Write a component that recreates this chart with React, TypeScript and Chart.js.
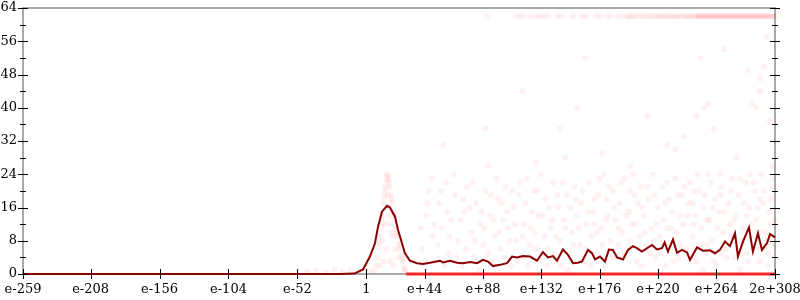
import React, { useEffect, useRef } from "react";
import { Chart, registerables } from "chart.js";

Chart.register(...registerables);

// ---- axis ticks ----
const xTickValues = [-259, -208, -156, -104, -52, 0, 44, 88, 132, 176, 220, 264, 308.25];
const xTickLabels = ["e-259", "e-208", "e-156", "e-104", "e-52", "1", "e+44", "e+88", "e+132", "e+176", "e+220", "e+264", "2e+308"];
const yMajorTicks = [0, 8, 16, 24, 32, 40, 48, 56, 64];
const yMinorTicks = [4, 12, 20, 28, 36, 44, 52, 60];

// ---- mean line (exponent, value) ----
const lineX = [-259, -20, -9, -2.5, 2.7, 6.5, 8.8, 11.8, 15.6, 17.8, 21.6, 23.9, 26.9, 29.1, 32.9, 38.2, 42.7, 48, 55.5, 57.8, 63.1, 68.4, 72.9, 78.2, 83.5, 88, 91.7, 95.5, 100.8, 106.1, 109.9, 113.6, 118.2, 123.4, 128.7, 133.2, 137, 140.8, 143.8, 148.3, 152.1, 155.9, 159.6, 162.7, 167.2, 170.2, 172.5, 176.2, 180, 183, 186, 189.1, 193.6, 197.4, 201.1, 204.1, 207.9, 211.7, 215.5, 219.2, 223, 225, 227.5, 231.3, 234.3, 238.1, 241.9, 244.1, 249.4, 253.9, 259.2, 263, 266.7, 270.5, 274.3, 278.1, 280.3, 284.1, 288.6, 291.6, 295.4, 298.4, 302.2, 304.5, 306, 308.25];
const lineY = [0, 0, 0.1, 1.1, 4.2, 7.4, 11.4, 15, 16.4, 16, 13.8, 10.6, 7.4, 5, 3.2, 2.6, 2.4, 2.7, 3.2, 2.8, 3.2, 2.7, 2.6, 2.9, 2.6, 3.4, 3.0, 1.9, 2.2, 2.6, 4.2, 4.0, 4.3, 4.2, 3.2, 5.3, 4.0, 4.3, 3.2, 5.9, 4.6, 2.6, 2.7, 3.0, 5.8, 5.0, 3.5, 4.2, 3.0, 5.9, 5.8, 4.0, 3.5, 5.8, 6.7, 6.2, 5.4, 6.2, 7.0, 5.9, 6.2, 7.6, 5.4, 8.3, 5.1, 5.8, 5.2, 3.4, 6.4, 5.6, 5.7, 5.0, 5.8, 7.8, 6.7, 9.8, 4.2, 7.8, 11.2, 5.4, 9.8, 5.8, 7.4, 9.6, 9.3, 8.8];

// ---- individual samples (exponent, value) ----
const cloudPoints: [number, number][] = [
  [42, 6], [45, 14], [47, 20], [50, 9], [52, 3], [55, 17], [57, 11], [60, 22], [62, 5], [64, 13], [67, 19], [69, 8], [72, 2], [74, 15], [76, 21], [79, 10], [81, 4], [83, 17], [86, 12], [88, 7], [90, 20], [93, 14], [95, 3], [97, 9], [99, 18],
  [101, 6], [103, 13], [105, 21], [107, 11], [109, 2], [111, 16], [113, 8], [115, 19], [117, 4], [119, 12], [121, 23], [123, 7], [125, 15], [127, 10], [129, 20], [131, 3], [133, 14], [135, 18], [137, 6], [139, 11], [141, 22], [143, 9], [145, 16], [147, 2], [149, 13], [151, 19], [153, 5], [155, 10], [157, 21], [159, 14],
  [161, 7], [162, 17], [164, 3], [166, 12], [168, 22], [170, 9], [171, 15], [173, 5], [175, 19], [177, 11], [179, 24], [180, 2], [182, 14], [184, 8], [186, 20], [188, 13], [189, 4], [191, 17], [193, 10], [195, 23], [197, 6], [198, 15], [200, 12], [202, 19], [204, 3], [206, 9], [207, 21], [209, 14], [211, 7], [213, 18], [215, 11], [216, 24], [218, 4], [220, 16],
  [221, 9], [223, 21], [224, 13], [226, 2], [228, 18], [229, 7], [231, 15], [233, 23], [234, 10], [236, 4], [238, 19], [239, 12], [241, 6], [243, 17], [244, 22], [246, 9], [248, 14], [249, 3], [251, 20], [253, 11], [254, 16], [256, 5], [258, 24], [259, 13], [261, 8], [263, 18], [264, 2], [266, 15], [268, 21], [269, 10], [271, 6], [273, 17], [274, 12], [276, 23], [278, 4], [279, 14], [281, 19], [283, 8], [284, 11], [286, 22], [288, 3], [289, 16], [291, 9], [293, 20], [294, 13], [296, 6], [298, 24], [299, 17], [301, 10], [303, 2], [304, 15], [306, 21], [307, 7], [305, 12], [297, 18], [287, 14], [277, 9], [267, 19], [257, 7], [247, 20], [237, 14], [227, 11], [217, 8], [208, 16], [199, 20], [190, 7], [181, 18], [172, 12],
  [90, 35], [146, 35], [159, 40], [227, 31], [249, 38], [291, 41], [288, 49], [300, 50], [297, 47], [297, 44], [294, 40], [252, 52], [255, 40], [258, 41], [58, 31], [118, 44], [128, 27], [165, 52], [178, 29], [199, 26], [212, 38], [233, 30], [262, 35], [270, 54], [279, 28], [304, 37], [306, 26], [302, 57], [240, 33], [150, 28], [92, 26]
];

const cloudPoints2: [number, number][] = [
  [41, 11], [44, 3], [46, 17], [49, 23], [51, 12], [54, 7], [56, 20], [59, 2], [61, 15], [63, 9], [66, 24], [68, 4], [71, 13], [73, 18], [75, 6], [78, 16], [80, 22], [82, 8], [85, 1], [87, 15], [89, 11], [92, 5], [94, 19], [96, 13], [98, 23],
  [100, 10], [102, 17], [104, 4], [106, 15], [108, 8], [110, 20], [112, 12], [114, 3], [116, 22], [118, 9], [120, 17], [122, 2], [124, 11], [126, 20], [128, 6], [130, 14], [132, 24], [134, 9], [136, 2], [138, 16], [140, 13], [142, 5], [144, 19], [146, 8], [148, 22], [150, 11], [152, 1], [154, 16], [156, 7], [158, 18],
  [160, 11], [163, 20], [165, 6], [167, 15], [169, 2], [172, 18], [174, 10], [176, 23], [178, 7], [181, 13], [183, 21], [185, 4], [187, 16], [190, 11], [192, 22], [194, 5], [196, 14], [199, 8], [201, 24], [203, 12], [205, 17], [207, 2], [210, 10], [212, 21], [214, 5], [217, 19], [219, 12],
  [222, 5], [225, 17], [227, 22], [230, 11], [232, 3], [235, 19], [237, 7], [240, 21], [242, 14], [245, 4], [247, 12], [250, 24], [252, 7], [255, 19], [257, 13], [260, 22], [262, 3], [265, 11], [267, 24], [270, 15], [272, 4], [275, 20], [277, 13], [280, 6], [282, 23], [285, 17], [287, 5], [290, 12], [292, 22], [295, 16], [297, 3], [300, 20], [302, 8], [305, 18], [307, 23], [308, 13], [303, 5], [296, 10], [289, 24], [282, 1], [275, 9], [268, 5], [261, 16], [254, 1], [246, 17]
];

const spikePoints: [number, number][] = [
  [6, 0.5], [7, 2], [8, 4], [9, 6.5], [10, 9], [11, 11.5], [12, 14], [13, 17], [14, 20], [15, 22.5], [15.5, 24], [16.5, 23], [17.5, 21], [18.5, 19], [19.5, 17], [20.5, 15], [21.5, 13], [22.5, 11], [23.5, 9], [24.5, 7.5], [25.5, 6], [26.5, 4.5], [27.5, 3], [28.5, 1.5], [29.5, 0.5],
  [9.5, 7.5], [11.5, 13], [13.5, 18.5], [14.5, 21], [16, 23.5], [17, 22], [19, 18], [21, 14], [23, 10], [25, 6.8], [27, 3.7], [29, 1],
  [12, 8], [14, 12], [16, 16], [18, 12], [20, 9], [22, 6], [24, 4], [15, 6], [13, 3], [18, 3], [10, 2], [20, 2], [16, 19], [17, 14], [19, 10],
  [-45, 0.5], [-38, 0.8], [-30, 0.4], [-24, 1], [-18, 0.6], [-12, 0.9], [-6, 0.5], [-1, 1.2], [3, 0.7]
];

const topBandX = [91, 113, 116, 119, 124, 128, 131, 134, 137, 144, 147, 156, 163, 166, 173, 176, 181, 184, 189, 192, 196, 198, 200, 202, 205, 208, 210, 213, 215, 217, 219, 221, 222.5, 224, 226, 228, 229.5, 231, 233, 234.5, 236, 238, 240, 241.5, 243, 244.5, 246, 248, 249.5, 250, 251, 252, 253, 254, 255, 256, 257, 258, 259, 260, 261, 262, 263, 264, 265, 266, 267, 268, 269, 270, 271, 272, 273, 274, 275, 276, 277, 278, 279, 280, 281, 282, 283, 284, 285, 286, 287, 288, 289, 290, 291, 292, 293, 294, 295, 296, 297, 298, 299, 300, 301, 302, 303, 304, 305, 306, 307, 308];
const topBandValue = 62;

const zeroBandX = [30, 308.25];
const zeroBandValue = 0;

const FONT = "'DejaVu Serif', serif";

const framePlugin = {
  id: "frame",
  beforeDatasetsDraw(chart: any) {
    const { ctx, chartArea: a } = chart;
    ctx.save();
    ctx.strokeStyle = "#aaaaaa";
    ctx.lineWidth = 2;
    ctx.strokeRect(a.left, a.top, a.right - a.left, a.bottom - a.top);
    ctx.restore();
  },
  afterDatasetsDraw(chart: any) {
    const { ctx, chartArea: a, scales } = chart;
    const xs = scales.x;
    const ys = scales.y;
    ctx.save();
    ctx.strokeStyle = "#000";
    ctx.lineWidth = 1;
    ctx.beginPath();
    for (const v of yMajorTicks) {
      const p = Math.round(ys.getPixelForValue(v)) + 0.5;
      ctx.moveTo(a.left - 5, p);
      ctx.lineTo(a.left + 5, p);
      ctx.moveTo(a.right - 5, p);
      ctx.lineTo(a.right + 5, p);
    }
    for (const v of yMinorTicks) {
      const p = Math.round(ys.getPixelForValue(v)) + 0.5;
      ctx.moveTo(a.left - 3, p);
      ctx.lineTo(a.left + 3, p);
      ctx.moveTo(a.right - 3, p);
      ctx.lineTo(a.right + 3, p);
    }
    for (const v of xTickValues) {
      const p = Math.round(xs.getPixelForValue(v)) + 0.5;
      ctx.moveTo(p, a.bottom - 5);
      ctx.lineTo(p, a.bottom + 5);
    }
    ctx.stroke();
    ctx.restore();
  },
};

const dot = (pts: [number, number][], alpha: number) => ({
  data: pts.map(([x, y]) => ({ x, y })),
  backgroundColor: `rgba(255,0,0,${alpha})`,
  borderWidth: 0,
  pointRadius: 3,
  clip: 6,
});

export default function App() {
  const ref = useRef<HTMLCanvasElement>(null);
  useEffect(() => {
    document.body.style.margin = "0";
    const canvas = ref.current!;
    const chart = new Chart(canvas, {
      type: "scatter",
      data: {
        datasets: [
          {
            type: "line",
            data: lineX.map((x, i) => ({ x, y: lineY[i] })),
            borderColor: "#8b0000",
            borderWidth: 2,
            pointRadius: 0,
            tension: 0,
            fill: false,
            clip: 6,
          } as any,
          {
            type: "line",
            data: zeroBandX.map((x) => ({ x, y: zeroBandValue })),
            borderColor: "rgba(250,30,30,0.95)",
            borderWidth: 3,
            pointRadius: 0,
            fill: false,
            clip: 6,
          } as any,
          dot(topBandX.map((x) => [x, topBandValue] as [number, number]), 0.055),
          dot(spikePoints, 0.06),
          dot(cloudPoints, 0.055),
          dot(cloudPoints2, 0.055),
        ],
      },
      options: {
        animation: false,
        responsive: false,
        events: [],
        layout: { padding: { top: 8, right: 25, left: 0, bottom: 0 } },
        plugins: { legend: { display: false }, tooltip: { enabled: false } },
        scales: {
          x: {
            type: "linear",
            min: -259,
            max: 308.25,
            grid: { display: false, drawTicks: false },
            border: { display: false },
            afterBuildTicks: (scale: any) => {
              scale.ticks = xTickValues.map((v) => ({ value: v }));
            },
            afterFit: (scale: any) => {
              scale.height = 26;
              scale.paddingLeft = 0;
              scale.paddingRight = 0;
              scale.paddingTop = 0;
              scale.paddingBottom = 0;
            },
            ticks: {
              autoSkip: false,
              maxRotation: 0,
              padding: 8,
              color: "#000",
              font: { family: FONT, size: 13 },
              callback: (_v: any, i: number) => xTickLabels[i],
            },
          },
          y: {
            type: "linear",
            min: 0,
            max: 64,
            grid: { display: false, drawTicks: false },
            border: { display: false },
            afterBuildTicks: (scale: any) => {
              scale.ticks = yMajorTicks.map((v) => ({ value: v }));
            },
            afterFit: (scale: any) => {
              scale.width = 23;
              scale.paddingLeft = 0;
              scale.paddingRight = 0;
              scale.paddingTop = 0;
              scale.paddingBottom = 0;
            },
            ticks: {
              padding: 6,
              color: "#000",
              font: { family: FONT, size: 13 },
              callback: (v: any) => String(v),
            },
          },
        },
      },
      plugins: [framePlugin],
    });
    return () => chart.destroy();
  }, []);
  return (
    <div style={{ width: 800, height: 300 }}>
      <canvas ref={ref} width={800} height={300} style={{ display: "block" }} />
    </div>
  );
}
